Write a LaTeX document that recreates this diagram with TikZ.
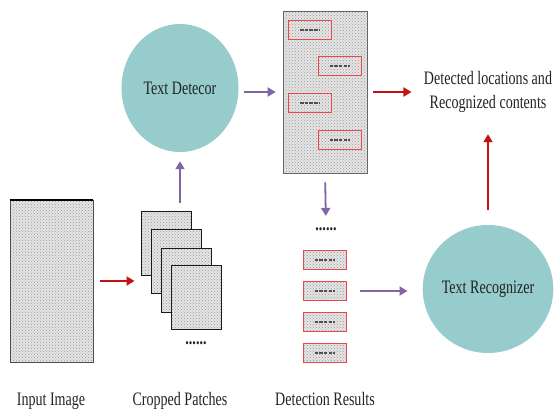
\documentclass[tikz,border=0pt]{standalone}
\usepackage{fontspec}
\setmainfont{Liberation Serif}[FakeStretch=0.74]
\usetikzlibrary{arrows.meta,patterns,positioning,shapes.geometric}

\definecolor{stageteal}{RGB}{150,204,204}
\definecolor{flowred}{RGB}{196,18,18}
\definecolor{flowpurple}{RGB}{128,100,166}
\definecolor{boxred}{RGB}{234,72,72}
\definecolor{inkgray}{RGB}{35,35,35}

\begin{document}
\begin{tikzpicture}[x=1pt,y=-1pt,font=\fontsize{19}{24}\selectfont,text=inkgray,
    stage/.style={ellipse, fill=stageteal, minimum width=117pt, minimum height=128pt, inner sep=0pt},
    dotted_fill/.style={preaction={fill=gray!20}, pattern=crosshatch dots, pattern color=gray!80},
    patch/.style={dotted_fill, draw=black!90, line width=0.9pt, minimum width=50pt, minimum height=64pt},
    hit/.style={dotted_fill, draw=boxred, line width=0.9pt, minimum width=43pt, minimum height=19pt,
      path picture={\draw[inkgray!80, line width=2pt, dash pattern=on 3.5pt off 1.2pt]
        ([xshift=-10pt]path picture bounding box.center) -- ([xshift=10pt]path picture bounding box.center);}},
    red_flow/.style={draw=flowred, line width=1.8pt, -{Triangle[length=8pt,width=9pt]}},
    purple_flow/.style={draw=flowpurple, line width=1.8pt, -{Triangle[length=8pt,width=9pt]}}]

    \useasboundingbox (0,0) rectangle (556,410);

    % input picture
    \node[dotted_fill, draw=black!70, line width=0.6pt, minimum width=83pt, minimum height=162pt] (input) at (51.5,281) {};
    \draw[line width=1.6pt] (input.north west) -- (input.north east);

    % stack of cropped patches, back to front
    \foreach \i/\x/\y in {1/166.5/243.5, 2/176/261, 3/186/280, 4/196/297}
      \node[patch] (patch_\i) at (\x,\y) {};
    \node[font=\fontsize{19}{24}\bfseries] (patch_dots) at (196,343) {......};

    % the two models
    \node[stage] (det) at (180,88) {Text Detecor};
    \node[stage] (rec) at (488,289) {Text Recognizer};

    % detector output on the whole picture
    \node[dotted_fill, draw=black!60, line width=0.6pt, minimum width=84pt, minimum height=162pt] (res_img) at (325,92) {};
    \foreach \i/\x/\y in {1/310/29.5, 2/339.5/66, 3/310/103, 4/339.5/140}
      \node[hit] (hit_\i) at (\x,\y) {};

    % cropped text regions
    \node[font=\fontsize{19}{24}\bfseries] (res_dots) at (326,229) {......};
    \foreach \i/\y in {1/260, 2/291, 3/322, 4/353}
      \node[hit] (box_\i) at (324.5,\y) {};

    \node[align=center] (out) at (488,92) {Detected locations and\\Recognized contents};

    % captions
    \node[anchor=base] (cap_input) at (51,405) {Input Image};
    \node[anchor=base] (cap_patch) at (180,405) {Cropped Patches};
    \node[anchor=base] (cap_res) at (325,405) {Detection Results};

    \path
    (input.east) edge[red_flow, shorten <=7pt, shorten >=16pt] (patch_2.west |- input.east)
    (det.south |- patch_1.north) edge[purple_flow, shorten <=8pt, shorten >=9pt] (det.south)
    (det.east |- res_img.west) edge[purple_flow, shorten <=5pt, shorten >=7pt] (res_img.west)
    (res_img.east) edge[red_flow, shorten <=6pt, shorten >=9pt] (out.west |- res_img.east)
    (res_img.south) edge[purple_flow, shorten <=9pt, shorten >=8pt] (res_dots.north)
    (box_2.east) edge[purple_flow, shorten <=14pt, shorten >=15pt] (rec.west |- box_2.east)
    (rec.north) edge[red_flow, shorten <=15pt, shorten >=18pt] (out.south)
    ;

\end{tikzpicture}
\end{document}
